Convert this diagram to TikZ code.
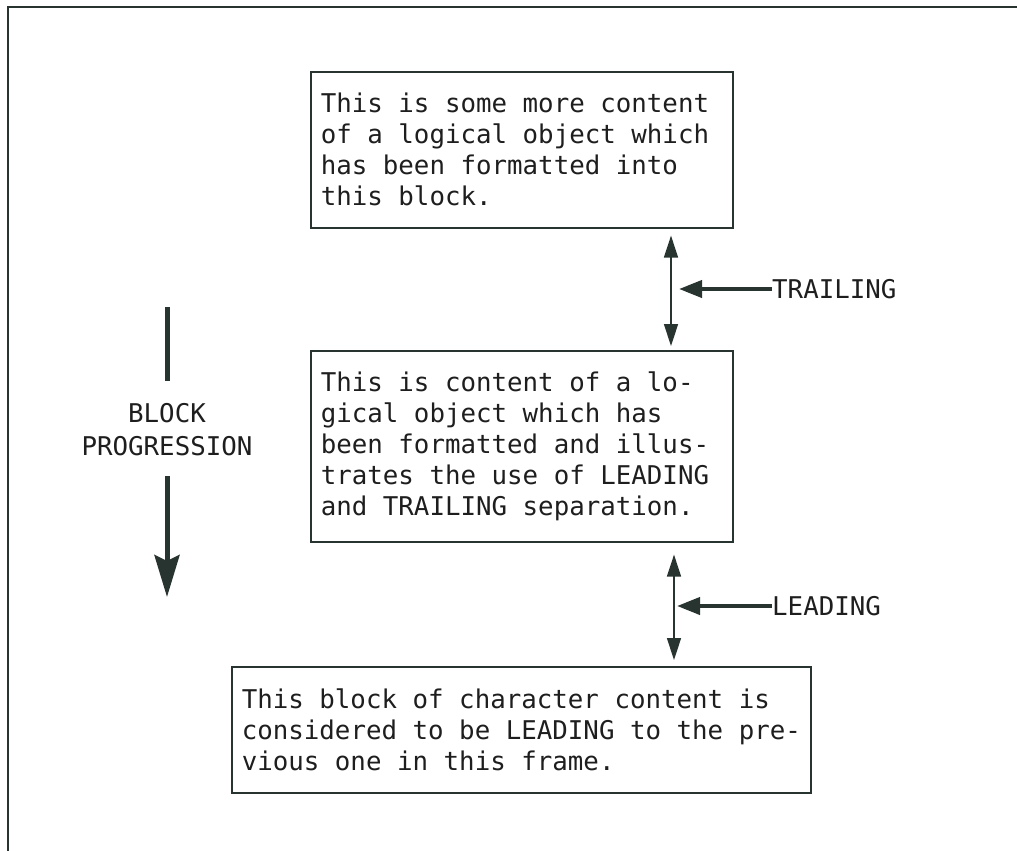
\documentclass[tikz,border=0pt]{standalone}
\usepackage{fontspec}
\setmonofont{DejaVu Sans Mono}
\usetikzlibrary{arrows.meta}
\definecolor{ink}{RGB}{40,52,48}
\definecolor{txt}{RGB}{30,30,30}
\DeclareRobustCommand\diagfont{\ttfamily\fontsize{25.8}{31}\selectfont
  \fontdimen2\font=15.53pt\fontdimen3\font=0pt\fontdimen4\font=0pt\relax}
\newcommand\ws{\hspace*{15.53pt}}
\begin{document}
\begin{tikzpicture}[x=1pt,y=-1pt,
  every node/.style={text=txt,font=\diagfont},
  box/.style={draw=ink,line width=1.6pt,rectangle,inner xsep=10pt,inner ysep=0pt,align=left,anchor=north west},
  dbl/.style={draw=ink,line width=1.5pt,{Triangle[length=22pt,width=14pt]}-{Triangle[length=22pt,width=14pt]}},
  pointer/.style={draw=ink,line width=4pt,-{Triangle[length=23pt,width=17pt]}},
  lbl/.style={anchor=west,inner sep=0pt}]
\useasboundingbox (0,0) rectangle (1017,851);
\draw[ink,line width=2pt] (1017,7) -- (8,7) -- (8,851);
% boxes
\node[box,minimum width=422pt,minimum height=156pt,text width=402pt] (b1) at (310,71)
 {This\ws is\ws some\ws more\ws content\\of\ws a\ws logical\ws object\ws which\\has\ws been\ws formatted\ws into\\this\ws block.};
\node[box,minimum width=422pt,minimum height=191pt,text width=402pt] (b2) at (310,350)
 {This\ws is\ws content\ws of\ws a\ws lo-\\gical\ws object\ws which\ws has\\been\ws formatted\ws and\ws illus-\\trates\ws the\ws use\ws of\ws LEADING\\and\ws TRAILING\ws separation.};
\node[box,minimum width=579pt,minimum height=126pt,text width=559pt] (b3) at (231,666)
 {This\ws block\ws of\ws character\ws content\ws is\\considered\ws to\ws be\ws LEADING\ws to\ws the\ws pre-\\vious\ws one\ws in\ws this\ws frame.};
% separation arrows
\coordinate (x1) at (671,0);
\coordinate (x2) at (674,0);
\draw[dbl,shorten <=7pt,shorten >=4pt] (b1.south -| x1) -- (b2.north -| x1);
\draw[dbl,shorten <=12pt,shorten >=6pt] (b2.south -| x2) -- (b3.north -| x2);
\node[lbl] (trl) at (772,289) {TRAILING};
\node[lbl] (led) at (772,606) {LEADING};
\coordinate (t1) at (679,289);
\coordinate (l1) at (677,606);
\draw[pointer] (trl.west) -- (t1);
\draw[pointer] (led.west) -- (l1);
% block progression
\node[align=center,inner sep=0pt,font=\ttfamily\fontsize{25.8}{33}\selectfont] (bp) at (167,430) {BLOCK\\PROGRESSION};
\coordinate (bp1) at (167,307);
\coordinate (bp2) at (167,597);
\draw[ink,line width=5pt] (bp1) -- (bp.north |- 0,381);
\draw[ink,line width=5pt,-{Stealth[length=42pt,width=25pt,inset=6pt]}] (bp.south |- 0,476) -- (bp2);
\end{tikzpicture}
\end{document}
